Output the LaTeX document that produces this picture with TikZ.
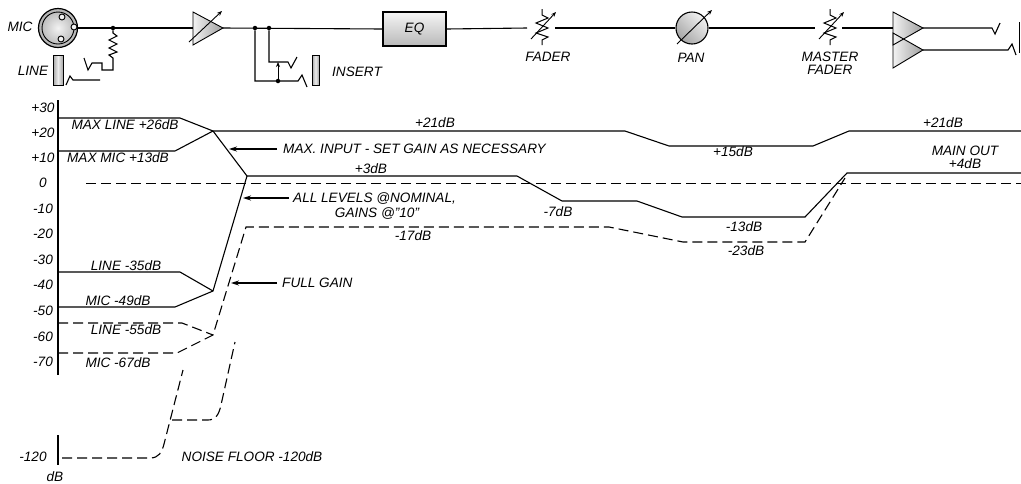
\documentclass[tikz,border=0pt]{standalone}
\usepackage{fontspec}
\setmainfont{Liberation Sans}
\usetikzlibrary{arrows.meta,shapes.geometric}
\begin{document}
\begin{tikzpicture}[x=1pt,y=-1pt,
  lbl/.style={font=\fontsize{13.6}{15}\selectfont\itshape, inner sep=0pt},
  wire/.style={line width=1.1pt},
  thin/.style={line width=0.9pt},
  dsh/.style={line width=1.1pt, dash pattern=on 10pt off 5pt},
  arr/.style={line width=1.1pt, -{Stealth[length=8pt,width=5pt]}},
  varr/.style={line width=0.9pt, -{Stealth[length=5pt,width=4pt]}},
  jdot/.style={circle, fill=black, inner sep=0pt, minimum size=4.5pt},
  jack/.style={line width=0.9pt, left color=gray!70, right color=gray!70, middle color=gray!15},
  ampfill/.style={line width=0.9pt, left color=gray!10, right color=gray!75},
]
\useasboundingbox (0,0) rectangle (1021,483);

% ---------------- top row: signal chain ----------------
\node[circle, draw, line width=1.2pt, minimum size=39pt, inner sep=0pt,
      inner color=gray!10, outer color=gray!60] (mic) at (58,28) {};
\draw[thin] (mic.center) circle (16);
\foreach \p in {(62,17),(74,27),(61,39)} \draw[thin, fill=gray!10] \p circle (3);
\node[lbl] (micl) at (20,27) {MIC};

\node[jdot] (j1) at (113,28) {};
\coordinate (ampin) at (193,28);
\coordinate (ampout) at (223,28);
\draw[wire] (mic.east) -- (ampin);

% line jack
\shadedraw[jack] (53,55) rectangle (63,85);
\node[lbl] (linel) at (33,71) {LINE};
\draw[wire] (66,85) -- (70,76) -- (73,80) -- (100,80);
\draw[wire] (j1) -- (113,33) -- (117,36) -- (109,40) -- (117,44) -- (109,48) -- (117,52) -- (109,55) -- (113,58)
  -- (113,70) -- (102,70) -- (102,63) -- (92,63) -- (88,70) -- (84,58);

% input amp
\shadedraw[ampfill] (193,12) -- (ampout) -- (193,45) -- cycle;
\draw[varr] (189,42) -- (222,11);

% insert
\node[draw, line width=1.1pt, minimum width=63pt, minimum height=34pt, inner sep=0pt,
      top color=gray!8, bottom color=gray!55, lbl] (eq) at (414.5,29) {EQ};
\draw[wire] (ampout) -- (eq.west);
\node[jdot] (j2) at (255,28) {};
\node[jdot] (j3) at (269,28) {};
\node[jdot] (j4) at (278,81) {};
\draw[wire] (j2) -- (255,81) -- (298,81) -- (302,75) -- (307,87);
\draw[wire] (j3) -- (269,62) -- (288,62) -- (291,68) -- (297,57);
\draw[varr] (j4) -- (278,62);
\shadedraw[jack] (312,55) rectangle (319,85);
\node[lbl] (insl) at (357,72) {INSERT};

% fader
\coordinate (f1a) at (527,28);
\coordinate (f1b) at (555,28);
\draw[wire] (eq.east) -- (f1a);
\draw[line width=1pt] (542,9) -- (542,15) -- (548,18) -- (536,23) -- (548,28) -- (536,33) -- (548,37) -- (542,40) -- (542,45);
\draw[varr] (531,39) -- (556,12);
\node[lbl] (fadl) at (548,57) {FADER};

% pan
\node[circle, draw, line width=1.1pt, minimum size=32pt, inner sep=0pt,
      left color=gray!10, right color=gray!70, shading angle=-45] (pan) at (692,28) {};
\draw[wire] (f1b) -- (pan.west);
\draw[varr] (677,44) -- (712,10);
\node[lbl] (panl) at (691,58) {PAN};

% master fader
\coordinate (f2a) at (815,28);
\coordinate (f2b) at (842,28);
\draw[wire] (pan.east) -- (f2a);
\draw[line width=1pt] (830,9) -- (830,15) -- (836,18) -- (824,23) -- (836,28) -- (824,33) -- (836,37) -- (830,40) -- (830,45);
\draw[varr] (819,39) -- (844,12);
\node[lbl] (mfl1) at (830,57) {MASTER};
\node[lbl] (mfl2) at (830,70) {FADER};

% output amps
\coordinate (oin) at (893,28);
\draw[wire] (f2b) -- (oin);
\shade[left color=gray!10, right color=gray!75] (893,33) -- (923,50) -- (893,68) -- cycle;
\shade[left color=gray!10, right color=gray!75] (893,12) -- (923,28) -- (893,45) -- cycle;
\draw[line width=0.9pt] (893,33) -- (923,50) -- (893,68) -- cycle;
\draw[line width=0.9pt] (893,12) -- (923,28) -- (893,45) -- cycle;
\draw[wire] (923,28) -- (992,28) -- (995,34) -- (1000,23);
\draw[wire] (923,50) -- (1008,50) -- (1012,44) -- (1016,55);
\draw[line width=1.4pt] (1019.5,22) -- (1019.5,53);

% ---------------- level chart ----------------
\draw[line width=1.6pt] (58,100) -- (58,375);
\draw[line width=1.6pt] (58,435) -- (58,465);
\foreach \v/\y in {+30/108,+20/133,+10/158,0/183,-10/209,-20/234,-30/260,-40/285,-50/311,-60/337,-70/362}
  \node[lbl] at (43,\y) {\v};
\node[lbl] (m120) at (33,457) {-120};
\node[lbl] (dbl) at (55,477) {dB};

\coordinate (J1) at (213,131);
\coordinate (J2) at (247,176);
\coordinate (J3) at (213,291);
\coordinate (J4) at (213,335);
\draw[wire] (58,118) -- (180,118) -- (J1);
\draw[wire] (58,151) -- (175,151) -- (J1);
\draw[wire] (J1) -- (625,131) -- (669,146) -- (813,146) -- (849,131) -- (1021,131);
\draw[wire] (J1) -- (J2) -- (517,176) -- (562,201) -- (637,201) -- (682,217) -- (805,217) -- (847,173) -- (1021,173);
\draw[wire] (58,272) -- (180,272) -- (J3);
\draw[wire] (58,307) -- (175,307) -- (J3) -- (J2);
\draw[dsh] (86,183.5) -- (1021,183.5);
\draw[dsh] (58,323) -- (182,323) -- (J4);
\draw[dsh] (58,353) -- (177,353) -- (J4) -- (246,227) -- (609,227) -- (683,242) -- (805,242) -- (845,178);
\draw[dsh] (62,458) -- (150,458) .. controls (159,458) and (162,452) .. (164,444) -- (183,370);
\draw[dsh] (172,420) -- (208,420) .. controls (216,420) and (219,414) .. (221,405) -- (235,342);

\node[lbl] at (125,125) {MAX LINE +26dB};
\node[lbl] at (118,158) {MAX MIC +13dB};
\node[lbl] at (126,266) {LINE -35dB};
\node[lbl] at (118,301) {MIC -49dB};
\node[lbl] at (126,330) {LINE -55dB};
\node[lbl] at (118,363) {MIC -67dB};
\node[lbl] at (252,457) {NOISE FLOOR -120dB};
\node[lbl] at (435,123) {+21dB};
\node[lbl] at (371,169) {+3dB};
\node[lbl] at (558,212) {-7dB};
\node[lbl] at (413,236) {-17dB};
\node[lbl] at (733,152) {+15dB};
\node[lbl] at (943,123) {+21dB};
\node[lbl] at (965,151) {MAIN OUT};
\node[lbl] at (965,164) {+4dB};
\node[lbl] at (744,227) {-13dB};
\node[lbl] at (746,251) {-23dB};

\node[lbl, anchor=west] (maxin) at (283,149) {MAX. INPUT - SET GAIN AS NECESSARY};
\draw[arr] (277,149) -- (229,149);
\node[lbl, anchor=west] (nom) at (293,199) {ALL LEVELS @NOMINAL,};
\node[lbl] (gains) at (377,214) {GAINS @\symbol{34}10\symbol{34}};
\draw[arr] (289,198) -- (243,198);
\node[lbl, anchor=west] (full) at (282,283) {FULL GAIN};
\draw[arr] (277,283) -- (231,283);
\end{tikzpicture}
\end{document}
